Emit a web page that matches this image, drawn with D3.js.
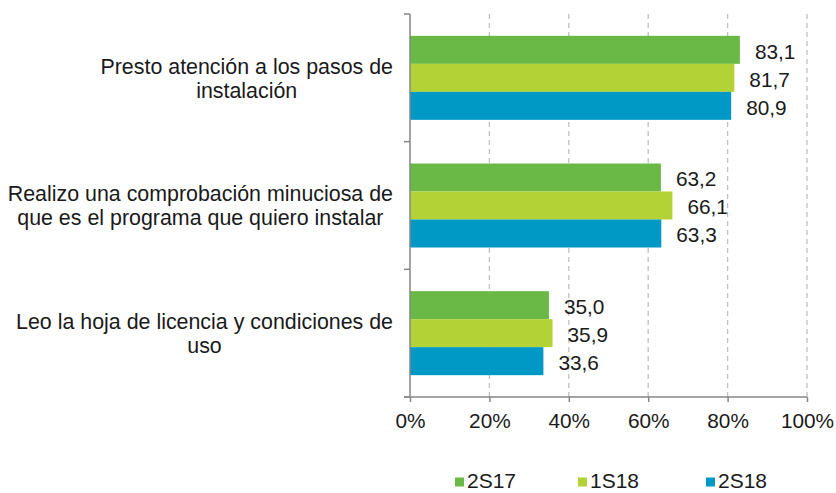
<!DOCTYPE html>
<html>
<head>
<meta charset="utf-8">
<script src="https://cdn.jsdelivr.net/npm/d3@7"></script>
<style>
  html, body { margin: 0; padding: 0; background: #fff; }
  svg { display: block; font-family: "Liberation Sans", Arial, sans-serif; }
</style>
</head>
<body>
<svg id="chart" width="836" height="493"></svg>
<script>
// Categories (two-line labels) and the three survey waves
const categories = [
  ["Presto atención a los pasos de", "instalación"],
  ["Realizo una comprobación minuciosa de", "que es el programa que quiero instalar"],
  ["Leo la hoja de licencia y condiciones de", "uso"]
];
const seriesNames = ["2S17", "1S18", "2S18"];
const values2S17 = [83.1, 63.2, 35.0];
const values1S18 = [81.7, 66.1, 35.9];
const values2S18 = [80.9, 63.3, 33.6];
const xTicks = [0, 20, 40, 60, 80, 100];
const colors = ["#6ab946", "#b2d235", "#0098c4"];

const seriesValues = [values2S17, values1S18, values2S18];
const fmt = v => d3.format(".1f")(v).replace(".", ",");

const textColor = "#1a1a1a";
const numSize = 20.8, catSize = 21.4, legendSize = 21;

const svg = d3.select("#chart");
const plotLeft = 410, plotRight = 807, plotTop = 14, plotBottom = 397;

const x = d3.scaleLinear().domain([0, 100]).range([plotLeft, plotRight]);
const y = d3.scaleBand().domain(d3.range(categories.length)).range([plotTop, plotBottom]);
const ySub = d3.scaleBand().domain(d3.range(seriesNames.length))
  .range([0, y.bandwidth()]).paddingOuter(0.78).paddingInner(0);

// dashed vertical gridlines
svg.append("g").selectAll("line").data(xTicks.slice(1)).join("line")
  .attr("x1", d => x(d)).attr("x2", d => x(d))
  .attr("y1", plotTop).attr("y2", plotBottom)
  .attr("stroke", "#c0c0c0").attr("stroke-width", 1.3)
  .attr("stroke-dasharray", "5,4");

// bars with value labels
const groups = svg.append("g").selectAll("g").data(categories).join("g")
  .attr("transform", (d, i) => `translate(0,${y(i)})`);

groups.each(function(cat, ci) {
  const g = d3.select(this);
  seriesValues.forEach((vals, si) => {
    g.append("rect")
      .attr("x", x(0))
      .attr("y", ySub(si))
      .attr("width", x(vals[ci]) - x(0))
      .attr("height", ySub.bandwidth())
      .attr("fill", colors[si]);
    g.append("text")
      .attr("x", x(vals[ci]) + 15)
      .attr("y", ySub(si) + ySub.bandwidth() / 2 + 1.5)
      .attr("dy", "0.36em")
      .attr("font-size", numSize)
      .attr("fill", textColor)
      .text(fmt(vals[ci]));
  });
});

// x axis
const xAxis = svg.append("g").attr("transform", `translate(0,${plotBottom})`)
  .call(d3.axisBottom(x).tickValues(xTicks).tickFormat(d => d + "%").tickSize(5).tickPadding(11));
xAxis.select(".domain").attr("stroke", "#868686").attr("stroke-width", 1.5)
  .attr("d", `M${plotLeft - 6},0H${plotRight}`);
xAxis.selectAll(".tick line").attr("stroke", "#868686").attr("stroke-width", 1.5);
xAxis.selectAll(".tick text").attr("font-size", numSize).attr("fill", textColor)
  .attr("font-family", "Liberation Sans, Arial, sans-serif");

// y axis line with category boundary ticks
svg.append("line").attr("x1", plotLeft).attr("x2", plotLeft).attr("y1", plotTop).attr("y2", plotBottom)
  .attr("stroke", "#868686").attr("stroke-width", 1.5);
svg.append("g").selectAll("line").data(d3.range(categories.length + 1)).join("line")
  .attr("x1", plotLeft - 6).attr("x2", plotLeft)
  .attr("y1", d => plotTop + d * y.step()).attr("y2", d => plotTop + d * y.step())
  .attr("stroke", "#868686").attr("stroke-width", 1.5);

// category labels: lines centred within a block whose right edge sits left of the axis
const labelRight = 393;
const catLabels = svg.append("g").selectAll("text").data(categories).join("text")
  .attr("text-anchor", "middle")
  .attr("font-size", catSize)
  .attr("fill", textColor);
catLabels.each(function(lines, i) {
  const t = d3.select(this);
  const spans = lines.map((ln, li) => t.append("tspan")
    .attr("y", y(i) + y.bandwidth() / 2 + (li - (lines.length - 1) / 2) * 24)
    .attr("dy", "0.36em")
    .text(ln));
  const maxW = d3.max(spans, s => s.node().getComputedTextLength());
  spans.forEach(s => s.attr("x", labelRight - maxW / 2));
});

// legend
const legendX = [455, 578, 706];
const legend = svg.append("g").selectAll("g").data(seriesNames).join("g")
  .attr("transform", (d, i) => `translate(${legendX[i]},481)`);
legend.append("rect").attr("x", 0).attr("y", -3.5).attr("width", 9).attr("height", 9)
  .attr("fill", (d, i) => colors[i]);
legend.append("text").attr("x", 12).attr("dy", "0.34em")
  .attr("font-size", legendSize).attr("fill", textColor).text(d => d);
</script>
</body>
</html>
